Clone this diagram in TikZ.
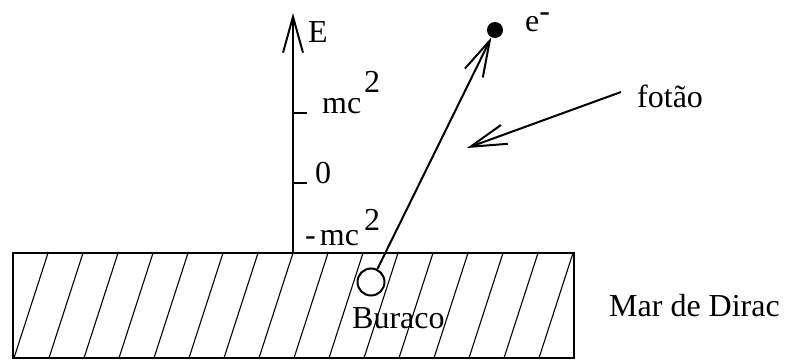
\documentclass[tikz,border=0pt]{standalone}
\usepackage{fontspec}
\setmainfont{Liberation Serif}
\usetikzlibrary{arrows.meta}
\begin{document}
\begin{tikzpicture}[x=1pt,y=-1pt,
  lbl/.style={anchor=base west, inner sep=0pt, font=\fontsize{32}{38}\selectfont},
  thick2/.style={line width=2pt},
  barb/.style={thick2,-{Straight Barb[length=36pt,width=20pt,line width=2pt]}},
  hatch/.style={line width=1.1pt},
  sea/.style={line width=2.4pt},
  dotn/.style={circle, fill=black, minimum size=16pt, inner sep=0pt},
  holen/.style={circle, draw, line width=2pt, fill=white, minimum size=27pt, inner sep=0pt},
  tick/.style={line width=1.6pt}]
\useasboundingbox (0,0) rectangle (786,361);
% hatching of the Dirac sea
\foreach \k in {0,...,15} \draw[hatch] ({14+35*\k},358) -- ({48+35*\k},253);
\draw[sea] (13,253) rectangle (574,358);
% energy axis
\coordinate (axb) at (293,253);
\coordinate (axt) at (293,13);
\draw[barb] (axb) -- (axt);
\node[lbl] (elab) at (308,43) {E};
% ticks
\coordinate (tmc) at (293,113);
\coordinate (tzero) at (293,183);
\coordinate (tmcend) at (307,113);
\coordinate (tzeroend) at (307,183);
\draw[tick] (tmc) -- (tmcend);
\draw[tick] (tzero) -- (tzeroend);
\node[lbl] (mcp) at (322,113) {mc};
\node[lbl] (mcp2) at (364,92) {2};
\node[lbl] (zero) at (315,183) {0};
\node[lbl] (mcn) at (305,245) {-\kern4pt mc};
\node[lbl] (mcn2) at (364,230) {2};
% electron and hole
\node[dotn] (el) at (495,30) {};
\node[lbl] (elec) at (525,32) {e\raisebox{10pt}[0pt][0pt]{-}};
\node[holen] (hole) at (371,282) {};
\draw[barb] (hole) -- (el);
\node[lbl] (bur) at (352,328) {Buraco};
% photon
\coordinate (phs) at (621,92);
\coordinate (phe) at (467,148);
\draw[barb] (phs) -- (phe);
\node[lbl] (fot) at (637,107) {fotão};
\node[lbl] (mar) at (609,316) {Mar de Dirac};
\end{tikzpicture}
\end{document}
